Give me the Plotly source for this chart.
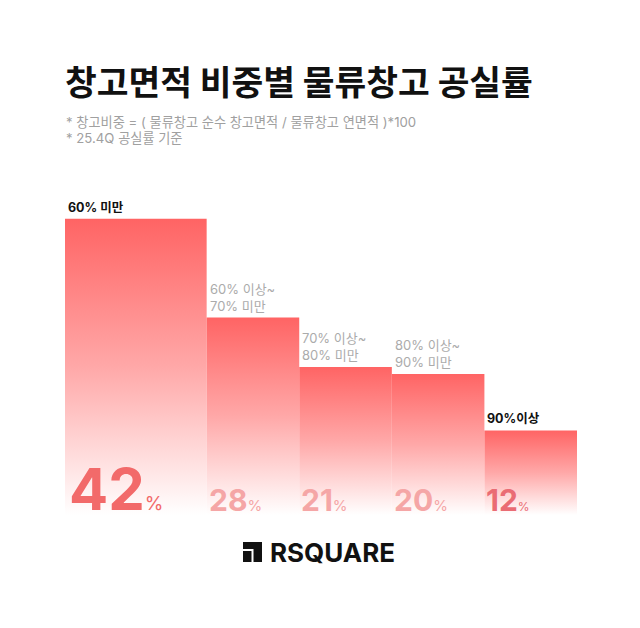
import plotly.graph_objects as go

# ---- data ----
categories = ["60% 미만", "60% 이상~<br>70% 미만", "70% 이상~<br>80% 미만", "80% 이상~<br>90% 미만", "90%이상"]
vacancy = [42, 28, 21, 20, 12]
bar_widths = [1.53, 1, 1, 1, 1]
cat_bold = [True, False, False, False, True]
value_colors = ["#F26A6A", "#F5A6A6", "#F5A6A6", "#F5A6A6", "#EA6C74"]
value_sizes = [58, 30, 30, 30, 30]
pct_sizes = [19, 15, 15, 15, 12]

FONT = "Inter, Noto Sans CJK KR"
W, H = 640, 628
OFF = 8  # page body margin compensation
L0, R0, T0, B0 = 65, 63, 160, 113
L, R, T, B = L0 - OFF, R0 + OFF, T0 - OFF, B0 + OFF
PW, PH = W - L0 - R0, H - T0 - B0
YMAX = 50.35

def px(x):
    return (x - L0) / PW

def py(y):
    return (H - B0 - y) / PH

fig = go.Figure()

lefts = []
acc = 0.0
for w in bar_widths:
    lefts.append(acc)
    acc += w
total_w = acc

for i, (v, w, x0) in enumerate(zip(vacancy, bar_widths, lefts)):
    x1 = x0 + w
    fig.add_trace(go.Scatter(
        x=[x0, x1, x1, x0, x0], y=[0, 0, v, v, 0],
        mode="lines", line=dict(width=0), fill="toself",
        fillgradient=dict(type="vertical",
                          colorscale=[[0, "rgba(255,255,255,1)"], [0.5, "#FFA8A8"], [1, "#FF6464"]]),
        hoverinfo="skip", showlegend=False,
    ))
    lab = f"<b>{categories[i]}</b>" if cat_bold[i] else categories[i]
    fig.add_annotation(
        x=x0, y=v, xref="x", yref="y", text=lab, showarrow=False,
        xanchor="left", yanchor="bottom", xshift=1, yshift=2, align="left",
        font=dict(family=FONT, size=13 if not cat_bold[i] else 12.5,
                  color="#111111" if cat_bold[i] else "#ABABAB"),
    )
    fig.add_annotation(
        x=x0, y=0, xref="x", yref="y",
        text=f"<b>{v}</b><span style='font-size:{pct_sizes[i]}px'>%</span>",
        showarrow=False, xanchor="left", yanchor="bottom",
        xshift=2 if i == 0 else 0, yshift=-11 if i == 0 else -5,
        font=dict(family=FONT, size=value_sizes[i], color=value_colors[i]),
    )

# title & notes
fig.add_annotation(x=px(63), y=py(80), xref="paper", yref="paper", text="<b>창고면적 비중별 물류창고 공실률</b>",
                   showarrow=False, xanchor="left", yanchor="middle",
                   font=dict(family="Noto Sans CJK KR", size=34.5, color="#111111"))
fig.add_annotation(x=px(64), y=py(122), xref="paper", yref="paper",
                   text="* 창고비중 = ( 물류창고 순수 창고면적 / 물류창고 연면적 )*100",
                   showarrow=False, xanchor="left", yanchor="middle",
                   font=dict(family=FONT, size=13.2, color="#A0A0A0"))
fig.add_annotation(x=px(64), y=py(138), xref="paper", yref="paper",
                   text="* 25.4Q 공실률 기준",
                   showarrow=False, xanchor="left", yanchor="middle",
                   font=dict(family=FONT, size=13.2, color="#A0A0A0"))

# logo
def rect(x0, y0, x1, y1):
    fig.add_shape(type="rect", xref="paper", yref="paper",
                  x0=px(x0), x1=px(x1), y0=py(y1), y1=py(y0),
                  fillcolor="#111111", line=dict(width=0), layer="above")
rect(243, 542, 262, 549)
rect(253.5, 549, 262, 562)
rect(243, 551, 251.5, 562)
fig.add_annotation(x=px(268), y=py(552.5), xref="paper", yref="paper", text="<b>RSQUARE</b>",
                   showarrow=False, xanchor="left", yanchor="middle",
                   font=dict(family="Inter", size=26, color="#111111"))

fig.update_layout(
    width=W, height=H, margin=dict(l=L, r=R, t=T, b=B),
    paper_bgcolor="white", plot_bgcolor="white",
    xaxis=dict(range=[0, total_w], visible=False, fixedrange=True),
    yaxis=dict(range=[0, YMAX], visible=False, fixedrange=True),
    showlegend=False,
)

fig.write_html("out.html")
